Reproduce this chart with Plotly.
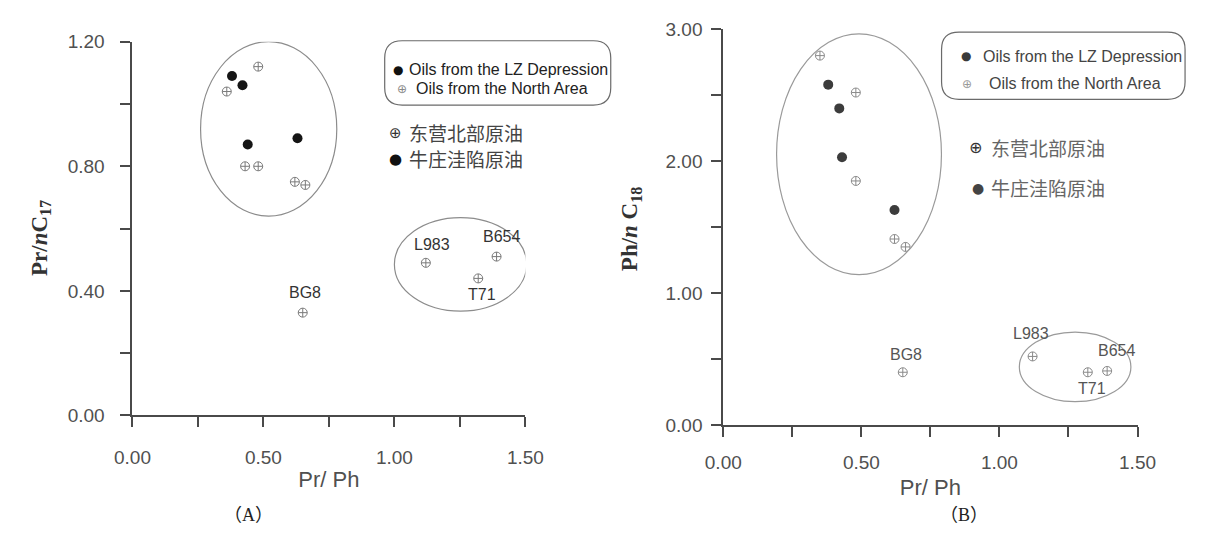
import plotly.graph_objects as go

W, H = 1205, 535

# ---------------- data ----------------
# Panel A : Pr/Ph vs Pr/nC17
a_lz_x = [0.38, 0.42, 0.44, 0.63]
a_lz_y = [1.09, 1.06, 0.87, 0.89]
a_north_x = [0.48, 0.36, 0.43, 0.48, 0.62, 0.66, 0.65, 1.12, 1.32, 1.39]
a_north_y = [1.12, 1.04, 0.80, 0.80, 0.75, 0.74, 0.33, 0.49, 0.44, 0.51]

# Panel B : Pr/Ph vs Ph/nC18
b_lz_x = [0.38, 0.42, 0.43, 0.62]
b_lz_y = [2.58, 2.40, 2.03, 1.63]
b_north_x = [0.35, 0.48, 0.48, 0.62, 0.66, 0.65, 1.12, 1.32, 1.39]
b_north_y = [2.80, 2.52, 1.85, 1.41, 1.35, 0.40, 0.52, 0.40, 0.41]

sample_names = ["BG8", "L983", "T71", "B654"]
a_sample_x = [0.65, 1.12, 1.32, 1.39]
a_sample_y = [0.33, 0.49, 0.44, 0.51]
b_sample_x = [0.65, 1.12, 1.32, 1.39]
b_sample_y = [0.40, 0.52, 0.40, 0.41]

# group ellipses (x0, x1, y0, y1) in data units
a_groups = [(0.26, 0.78, 0.64, 1.20), (1.00, 1.505, 0.335, 0.635)]
b_groups = [(0.193, 0.79, 1.14, 2.965), (1.072, 1.476, 0.177, 0.704)]

x_ticks = [0.0, 0.5, 1.0, 1.5]
a_y_ticks = [0.0, 0.4, 0.8, 1.2]
b_y_ticks = [0.0, 1.0, 2.0, 3.0]

legend_en = ["Oils from the LZ Depression", "Oils from the North Area"]
legend_cn = ["东营北部原油", "牛庄洼陷原油"]

# ---------------- style ----------------
AX = "#4a4a4a"
TXT = "#505050"
SANS = "Liberation Sans, Arial, sans-serif"
SERIF = "Liberation Serif, Times New Roman, serif"
CJK = "Noto Sans CJK SC, sans-serif"


def px_x(p):
    return p / W


def px_y(p):
    return 1 - p / H


fig = go.Figure()

# panel A traces
fig.add_trace(go.Scatter(x=a_lz_x, y=a_lz_y, mode="markers", xaxis="x", yaxis="y",
                         marker=dict(symbol="circle", size=10, color="#151515"),
                         showlegend=False))
fig.add_trace(go.Scatter(x=a_north_x, y=a_north_y, mode="markers", xaxis="x", yaxis="y",
                         marker=dict(symbol="circle-cross-open", size=9, color="#7a7a7a",
                                     line=dict(width=1)),
                         showlegend=False))
# panel B traces
fig.add_trace(go.Scatter(x=b_lz_x, y=b_lz_y, mode="markers", xaxis="x2", yaxis="y2",
                         marker=dict(symbol="circle", size=10, color="#3c3c3c"),
                         showlegend=False))
fig.add_trace(go.Scatter(x=b_north_x, y=b_north_y, mode="markers", xaxis="x2", yaxis="y2",
                         marker=dict(symbol="circle-cross-open", size=9, color="#8a8a8a",
                                     line=dict(width=1)),
                         showlegend=False))

axis_common = dict(showline=True, linecolor=AX, linewidth=2, ticks="outside",
                   ticklen=10, tickwidth=2, tickcolor=AX, showgrid=False,
                   zeroline=False, tickformat=".2f",
                   tickfont=dict(family=SANS, size=19, color=TXT))

fig.update_layout(
    width=W, height=H, margin=dict(l=0, r=0, t=0, b=0),
    paper_bgcolor="white", plot_bgcolor="white", showlegend=False,
    xaxis=dict(domain=[px_x(118), px_x(523)], range=[0, 1.5], tickvals=x_ticks,
               minor=dict(ticks="outside", ticklen=10, tickwidth=2, tickcolor=AX, dtick=0.25),
               anchor="y", ticklabelstandoff=14,
               title=dict(text="Pr/ Ph", font=dict(family=SANS, size=22, color=TXT), standoff=4),
               **axis_common),
    yaxis=dict(domain=[px_y(422), px_y(33)], range=[0, 1.2], tickvals=a_y_ticks,
               minor=dict(ticks="outside", ticklen=10, tickwidth=2, tickcolor=AX, dtick=0.2),
               anchor="x", ticklabelstandoff=12, **axis_common),
    xaxis2=dict(domain=[px_x(727), px_x(1154)], range=[0, 1.5], tickvals=x_ticks,
                minor=dict(ticks="outside", ticklen=10, tickwidth=2, tickcolor=AX, dtick=0.25),
                anchor="y2", ticklabelstandoff=9,
                title=dict(text="Pr/ Ph", font=dict(family=SANS, size=22, color=TXT), standoff=8),
                **axis_common),
    yaxis2=dict(domain=[px_y(432), px_y(20)], range=[0, 3.0], tickvals=b_y_ticks,
                minor=dict(ticks="outside", ticklen=10, tickwidth=2, tickcolor=AX, dtick=0.5),
                anchor="x2", ticklabelstandoff=5, **axis_common),
)

shapes = []
for (x0, x1, y0, y1) in a_groups:
    shapes.append(dict(type="circle", xref="x", yref="y", x0=x0, x1=x1, y0=y0, y1=y1,
                       line=dict(color="#8c8c8c", width=1.2)))
for (x0, x1, y0, y1) in b_groups:
    shapes.append(dict(type="circle", xref="x2", yref="y2", x0=x0, x1=x1, y0=y0, y1=y1,
                       line=dict(color="#9a9a9a", width=1.2)))


def rounded_box(l, t, r, b, rad):
    def P(x, y):
        return f"{px_x(x):.5f},{px_y(y):.5f}"
    path = (f"M {P(l + rad, t)} L {P(r - rad, t)} Q {P(r, t)} {P(r, t + rad)} "
            f"L {P(r, b - rad)} Q {P(r, b)} {P(r - rad, b)} "
            f"L {P(l + rad, b)} Q {P(l, b)} {P(l, b - rad)} "
            f"L {P(l, t + rad)} Q {P(l, t)} {P(l + rad, t)} Z")
    return dict(type="path", xref="paper", yref="paper", path=path,
                line=dict(color="#6a6a6a", width=1.2))


shapes.append(rounded_box(378, 32, 611, 99, 18))
shapes.append(rounded_box(952, 23, 1203, 93, 18))
fig.update_layout(shapes=shapes)

ann = []


def paper_text(x, y, text, size, color, family, xanchor="left"):
    ann.append(dict(xref="paper", yref="paper", x=px_x(x), y=px_y(y), text=text,
                    showarrow=False, xanchor=xanchor, yanchor="middle",
                    font=dict(size=size, color=color, family=family)))


# legend A (English)
paper_text(392, 62, "●", 12, "#111111", "DejaVu Sans", "center")
paper_text(401, 62, legend_en[0], 16, "#222222", SANS)
paper_text(396, 82, "⊕", 12, "#888888", "DejaVu Sans", "center")
paper_text(408, 82, legend_en[1], 16, "#222222", SANS)
# legend A (Chinese)
paper_text(389, 128, "⊕", 15, "#333333", "DejaVu Sans", "center")
paper_text(401, 128, legend_cn[0], 19, "#444444", CJK)
paper_text(389, 155, "●", 15, "#111111", "DejaVu Sans", "center")
paper_text(401, 155, legend_cn[1], 19, "#444444", CJK)

# legend B (English)
paper_text(977, 48, "●", 12, "#3a3a3a", "DejaVu Sans", "center")
paper_text(993, 48, legend_en[0], 16, "#444444", SANS)
paper_text(978, 77, "⊕", 12, "#999999", "DejaVu Sans", "center")
paper_text(999, 77, legend_en[1], 16, "#444444", SANS)
# legend B (Chinese)
paper_text(987, 143, "⊕", 16, "#333333", "DejaVu Sans", "center")
paper_text(1001, 143, legend_cn[0], 19, "#666666", CJK)
paper_text(990, 185, "●", 14, "#444444", "DejaVu Sans", "center")
paper_text(1001, 185, legend_cn[1], 19, "#666666", CJK)

# y-axis titles
ann.append(dict(xref="paper", yref="paper", x=px_x(23), y=px_y(237), textangle=-90,
                text="<b>Pr/<i>n</i>C<sub>17</sub></b>", showarrow=False,
                xanchor="center", yanchor="middle",
                font=dict(size=23, color="#333333", family=SERIF)))
ann.append(dict(xref="paper", yref="paper", x=px_x(632), y=px_y(228), textangle=-90,
                text="<b>Ph/<i>n</i> C<sub>18</sub></b>", showarrow=False,
                xanchor="center", yanchor="middle",
                font=dict(size=23, color="#333333", family=SERIF)))

# captions
paper_text(238, 526, "（A）", 18, "#222222", "Liberation Serif, Noto Sans CJK SC", "center")
paper_text(975, 526, "（B）", 18, "#222222", "Liberation Serif, Noto Sans CJK SC", "center")

# sample labels
a_label_shift = [(2, 20), (6, 18), (4, -16), (5, 20)]
b_label_shift = [(3, 18), (-2, 23), (4, -16), (9, 20)]
for name, x, y, (dx, dy) in zip(sample_names, a_sample_x, a_sample_y, a_label_shift):
    ann.append(dict(xref="x", yref="y", x=x, y=y, text=name, showarrow=False,
                    xshift=dx, yshift=dy, xanchor="center", yanchor="middle",
                    font=dict(size=16, color="#333333", family=SANS)))
for name, x, y, (dx, dy) in zip(sample_names, b_sample_x, b_sample_y, b_label_shift):
    ann.append(dict(xref="x2", yref="y2", x=x, y=y, text=name, showarrow=False,
                    xshift=dx, yshift=dy, xanchor="center", yanchor="middle",
                    font=dict(size=16, color="#555555", family=SANS)))

fig.update_layout(annotations=ann)
fig.write_html("out.html")
